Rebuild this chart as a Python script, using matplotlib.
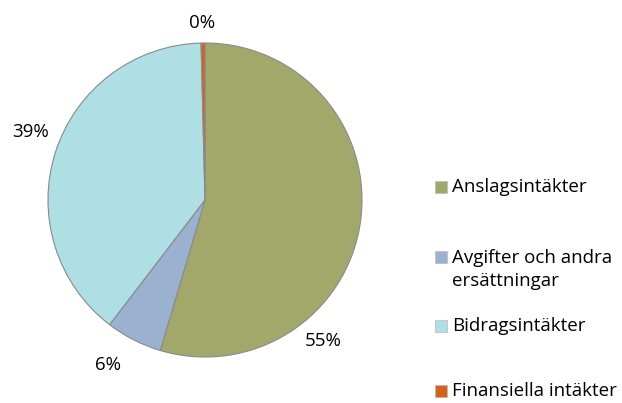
import matplotlib
matplotlib.use("Agg")
import matplotlib.pyplot as plt
from matplotlib.patches import Rectangle

categories = ["Anslagsintäkter", "Avgifter och andra\nersättningar", "Bidragsintäkter", "Finansiella intäkter"]
values = [54.6, 5.8, 39.2, 0.4]
colors = ["#A2A86A", "#9BB1D0", "#ADDFE5", "#D8611A"]

plt.rcParams['font.family'] = ['Open Sans', 'DejaVu Sans']

W, H = 622, 403
fig = plt.figure(figsize=(W / 100, H / 100), dpi=100)
cx, cy, r = 205, 200, 157
ax = fig.add_axes([(cx - r) / W, (H - cy - r) / H, 2 * r / W, 2 * r / H])
wedges, _ = ax.pie(values, colors=colors, startangle=90, counterclock=False,
                   radius=1, wedgeprops=dict(edgecolor="#8a8a8a", linewidth=0.8))
ax.set_xlim(-1, 1)
ax.set_ylim(-1, 1)
ax.set_axis_off()

label_pos = [(0.75, -0.90), (-0.62, -1.05), (-1.11, 0.43), (-0.02, 1.13)]
for v, (x, y) in zip(values, label_pos):
    ax.text(x, y, f"{v:.0f}%", ha="center", va="center", fontsize=13.5, clip_on=False)

leg_text_y = [187, 269.5, 326, 391]
leg_box_y = [187, 257, 326, 391]
for cat, col, ty, by in zip(categories, colors, leg_text_y, leg_box_y):
    fig.patches.append(Rectangle((435 / W, (H - by - 6) / H), 12 / W, 12 / H,
                                 transform=fig.transFigure, facecolor=col,
                                 edgecolor="#bbbbbb", linewidth=0.5))
    fig.text(452 / W, (H - ty) / H, cat, ha="left", va="center", fontsize=13.5,
             linespacing=1.3)

fig.savefig("out.png", dpi=100)
